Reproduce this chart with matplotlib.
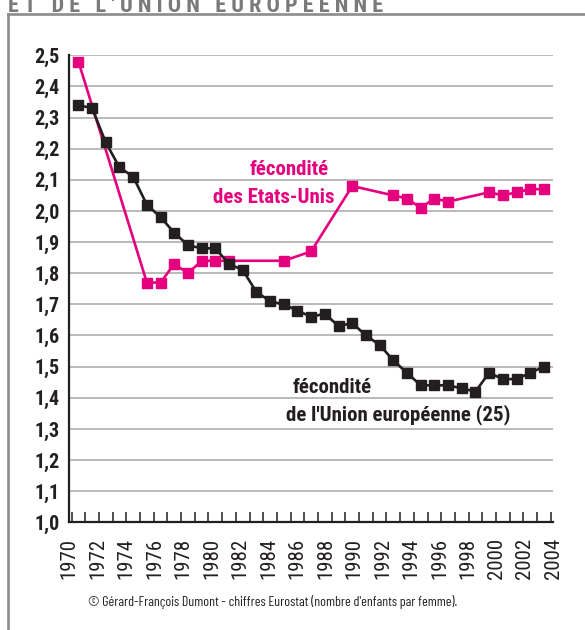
import numpy as np
import matplotlib
matplotlib.use("Agg")
import matplotlib.pyplot as plt
from matplotlib.lines import Line2D
from matplotlib.ticker import FuncFormatter

plt.rcParams['font.family'] = ['Roboto Condensed', 'IBM Plex Sans Condensed', 'DejaVu Sans']

# data (nombre d'enfants par femme)
eu_years = list(range(1970, 2005))
eu_values = [2.34, 2.33, 2.22, 2.14, 2.11, 2.02, 1.98, 1.93, 1.89, 1.88,
             1.88, 1.83, 1.81, 1.74, 1.71, 1.70, 1.68, 1.66, 1.67, 1.63,
             1.64, 1.60, 1.57, 1.52, 1.48, 1.44, 1.44, 1.44, 1.43, 1.42,
             1.48, 1.46, 1.46, 1.48, 1.50]

us_years = [1970, 1975, 1976, 1977, 1978, 1979, 1980, 1981, 1985, 1987,
            1990, 1993, 1994, 1995, 1996, 1997, 2000, 2001, 2002, 2003, 2004]
us_values = [2.48, 1.77, 1.77, 1.83, 1.80, 1.84, 1.84, 1.84, 1.84, 1.87,
             2.08, 2.05, 2.04, 2.01, 2.04, 2.03, 2.06, 2.05, 2.06, 2.07, 2.07]

label_years = list(range(1970, 2005, 2))
y_ticks = np.round(np.arange(1.0, 2.51, 0.1), 1)

PINK = '#e5007d'
BLACK = '#231f20'
GREY = '#8c8c8c'

fig = plt.figure(figsize=(5.85, 6.30), dpi=100)
ax = fig.add_axes([69.3 / 585, 1 - 522.3 / 630, 484 / 585, 467 / 630])

# points sit in the middle of each year slot
ax.plot(np.array(us_years) + 0.5, us_values, color=PINK, lw=1.9,
        marker='s', ms=6.5, clip_on=False, zorder=3)
ax.plot(np.array(eu_years) + 0.5, eu_values, color=BLACK, lw=1.9,
        marker='s', ms=6.5, clip_on=False, zorder=4)

ax.set_xlim(1970, 2005)
ax.set_ylim(1.0, 2.5)

ax.set_yticks(y_ticks)
ax.yaxis.set_major_formatter(FuncFormatter(lambda v, p: f"{v:.1f}".replace('.', ',')))
ax.tick_params(axis='y', length=0, pad=7, labelsize=14.5)
for t in ax.get_yticklabels():
    t.set_fontweight('bold')
    t.set_color(BLACK)
ax.yaxis.grid(True, color='#b4b4b4', lw=1.3)
ax.set_axisbelow(True)

# year ticks every year, labels slightly stretched as on the original
ax.set_xticks(np.arange(1970, 2006), minor=True)
ax.tick_params(axis='x', which='minor', direction='in', length=7.5, width=1.1, color=BLACK)
ax.set_xticks(1969.834 + (np.array(label_years) - 1970) * 1.0398)
ax.set_xticklabels([str(y) for y in label_years], rotation=90, fontsize=15)
ax.tick_params(axis='x', which='major', length=0, pad=11, labelcolor=BLACK)

for s in ['top', 'right']:
    ax.spines[s].set_visible(False)
for s in ['left', 'bottom']:
    ax.spines[s].set_color(BLACK)
    ax.spines[s].set_linewidth(1.6)

# annotations
ax.text(1985.9, 2.116, "fécondité", color=PINK, fontsize=15, fontweight='bold', ha='center')
ax.text(1984.8, 2.026, "des Etats-Unis", color=PINK, fontsize=15, fontweight='bold', ha='center')
ax.text(1989.0, 1.414, "fécondité", color=BLACK, fontsize=15, fontweight='bold', ha='center')
ax.text(1993.85, 1.328, "de l'Union européenne (25)", color=BLACK, fontsize=15,
        fontweight='bold', ha='center')

fig.text(273 / 585, (630 - 606) / 630,
         "© Gérard-François Dumont - chiffres Eurostat (nombre d'enfants par femme).",
         fontsize=10, ha='center', va='baseline', color=BLACK,
         family=['Barlow Condensed', 'Roboto Condensed', 'DejaVu Sans'])

# cut-off title and frame
fig.text(8 / 585, (630 - 11.5) / 630, "E T   D E   L ' U N I O N   E U R O P E E N N E",
         fontsize=16, fontweight='bold', color='#7a7a7a', ha='left', va='baseline')
fig.add_artist(Line2D([7.5 / 585, 7.5 / 585], [0, (630 - 13.5) / 630],
                      transform=fig.transFigure, color=GREY, lw=1.9))
fig.add_artist(Line2D([7.5 / 585, 1], [(630 - 13.5) / 630] * 2,
                      transform=fig.transFigure, color=GREY, lw=1.9))

fig.savefig('out.png', dpi=100)
